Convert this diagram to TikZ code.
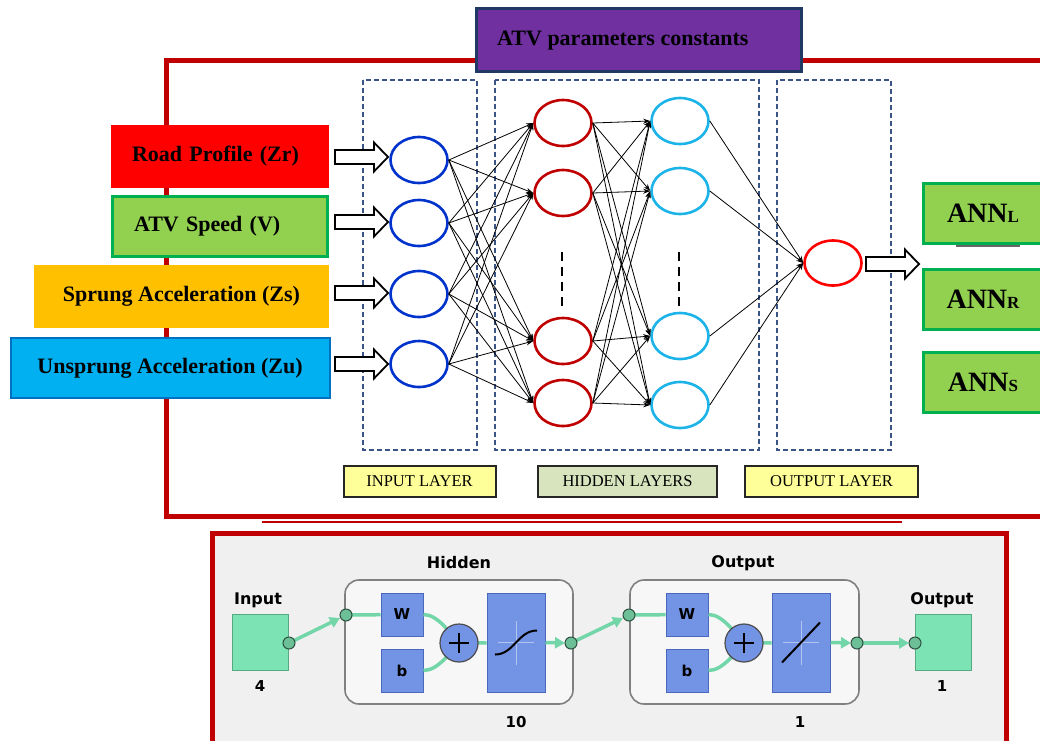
\documentclass[tikz,border=0pt]{standalone}
\usepackage{fontspec}
\setmainfont{Liberation Serif}
\newfontfamily\uisans{DejaVu Sans}
\usetikzlibrary{shapes.geometric,arrows.meta}
\definecolor{framered}{HTML}{C00000}
\definecolor{purp}{HTML}{7030A0}
\definecolor{navy}{HTML}{1F3864}
\definecolor{rbox}{HTML}{FF0000}
\definecolor{gfill}{HTML}{92D050}
\definecolor{gline}{HTML}{00B050}
\definecolor{obox}{HTML}{FFC000}
\definecolor{cbox}{HTML}{00B0F0}
\definecolor{cline}{HTML}{0070C0}
\definecolor{dashc}{HTML}{3A5488}
\definecolor{inblue}{HTML}{0033CC}
\definecolor{hred}{HTML}{C00000}
\definecolor{hcyan}{HTML}{1CB4E8}
\definecolor{yel}{HTML}{FFFF99}
\definecolor{hgreen}{HTML}{D7E4BD}
\definecolor{panelbg}{HTML}{F0F0F0}
\definecolor{mgreen}{HTML}{7BE3B4}
\definecolor{mgreenb}{HTML}{56A982}
\definecolor{mline}{HTML}{72D6A9}
\definecolor{mdot}{HTML}{6CBF97}
\definecolor{mdotb}{HTML}{2C4F3E}
\definecolor{mblue}{HTML}{7393E4}
\definecolor{mblueb}{HTML}{4A67BE}
\newcommand\blkarrow[2]{\draw[line width=1.8pt,fill=white] (#1,#2-7) -- ++(39,0) -- ++(0,-7.5) -- ++(14,14.5) -- ++(-14,14.5) -- ++(0,-7.5) -- ++(-39,0) -- cycle;}
\begin{document}
\begin{tikzpicture}[x=1pt,y=-1pt,
  inbox/.style={draw=none,minimum height=63pt,inner sep=0pt,font=\fontsize{22}{26}\selectfont\bfseries},
  neuron/.style={ellipse,draw,line width=2.6pt,minimum width=57pt,minimum height=46pt,inner sep=0pt},
  conn/.style={line width=0.8pt,-{Stealth[length=7pt,width=5pt]}},
  dbox/.style={draw=dashc,line width=1.3pt,dash pattern=on 5pt off 3pt},
  lbox/.style={draw=black!85,line width=2pt,minimum height=31pt,inner sep=0pt,font=\fontsize{16.5}{19}\selectfont},
  annbox/.style={draw=gline,fill=gfill,line width=3pt,minimum width=120pt,minimum height=60pt,inner sep=0pt},
  mw/.style={draw=mblueb,fill=mblue,line width=1pt,minimum width=42pt,minimum height=43pt,inner sep=0pt,font=\uisans\bfseries\fontsize{15}{18}\selectfont},
  mtf/.style={draw=mblueb,fill=mblue,line width=1pt,minimum width=58pt,minimum height=99pt,inner sep=0pt},
  mplus/.style={circle,draw=black!70,fill=mblue,line width=1.2pt,minimum size=38pt,inner sep=0pt},
  mround/.style={draw=black!50,fill=white!97!black,line width=1.6pt,rounded corners=14pt},
  mdotst/.style={circle,draw=mdotb,fill=mdot,line width=1pt,minimum size=12pt,inner sep=0pt},
  msq/.style={draw=mgreenb,fill=mgreen,line width=1pt,minimum width=56pt,minimum height=56pt,inner sep=0pt},
  mlbl/.style={font=\uisans\bfseries\fontsize{16}{19}\selectfont,inner sep=0pt},
  mnum/.style={font=\uisans\bfseries\fontsize{15}{18}\selectfont,inner sep=0pt},
  marr/.style={draw=mline,line width=3.5pt,-{Triangle[length=10pt,width=11pt]}},
  mln/.style={draw=mline,line width=3.5pt},
  tfcross/.style={draw=mblue!55!white,line width=1pt}]
\useasboundingbox (0,0) rectangle (1040,740);
\clip (0,0) rectangle (1040,740);
\fill[white] (0,0) rectangle (1040,740);

% top frame
\draw[framered,line width=5pt] (166,60) rectangle (1060,516);
\draw[framered,line width=1.3pt] (262,522) -- (902,522);

% purple title
\node[draw=navy,fill=purp,line width=3pt,minimum width=325pt,minimum height=63pt,inner sep=0pt] (title) at (639,40) {};
\node[anchor=west,inner sep=0pt,font=\fontsize{22}{26}\selectfont\bfseries] (titletext) at (497,41) {ATV parameters constants};

% dashed layer boxes
\draw[dbox] (363,80) rectangle (477,450);
\draw[dbox] (495,80) rectangle (759,450);
\draw[dbox] (777,80) rectangle (891,450);

% input boxes
\node[inbox,fill=rbox,minimum width=218pt,text width=176pt,inner xsep=21pt,align=left] (rp) at (220,156) {Road Profile (Zr)};
\node[inbox,draw=gline,line width=3pt,fill=gfill,minimum width=215pt,minimum height=60pt,text width=172pt,inner xsep=21pt,align=left] (sp) at (220,226.5) {ATV Speed (V)};
\node[inbox,fill=obox,minimum width=295pt] (za) at (181.5,296.5) {Sprung Acceleration (Zs)};
\node[inbox,draw=cline,line width=2pt,fill=cbox,minimum width=319pt,minimum height=60pt] (zu) at (170,368) {Unsprung Acceleration (Zu)};

% block arrows
\blkarrow{335}{157}
\blkarrow{335}{222}
\blkarrow{335}{293}
\blkarrow{335}{364}
\blkarrow{866}{264}

% neurons
\node[neuron,draw=inblue] (i1) at (419,160) {};
\node[neuron,draw=inblue] (i2) at (419,223) {};
\node[neuron,draw=inblue] (i3) at (419,294) {};
\node[neuron,draw=inblue] (i4) at (419,364) {};
\node[neuron,draw=hred] (h1) at (563,123) {};
\node[neuron,draw=hred] (h2) at (563,193) {};
\node[neuron,draw=hred] (h3) at (563,341) {};
\node[neuron,draw=hred] (h4) at (563,403) {};
\node[neuron,draw=hcyan] (g1) at (680,121) {};
\node[neuron,draw=hcyan] (g2) at (680,191) {};
\node[neuron,draw=hcyan] (g3) at (680,336) {};
\node[neuron,draw=hcyan] (g4) at (680,405) {};
\node[neuron,draw=rbox,minimum height=45pt] (o1) at (833,263) {};

\foreach \i in {1,...,4}{\foreach \j in {1,...,4}{
  \draw[conn] (i\i.east) -- (h\j.west);
  \draw[conn] (h\i.east) -- (g\j.west);
}}
\foreach \j in {1,...,4}{\draw[conn] (g\j.east) -- (o1.west);}

\draw[line width=2.5pt,dash pattern=on 9pt off 6pt] (562,252) -- (562,308);
\draw[line width=2.5pt,dash pattern=on 9pt off 6pt] (679,252) -- (679,308);

% ANN boxes
\node[annbox] (annl) at (983,213) {\fontsize{28}{32}\selectfont\bfseries ANN{\fontsize{17}{20}\selectfont L}};
\draw[black!60,line width=2pt] (956,246) -- (1020,246);
\node[annbox] (annr) at (983,299) {\fontsize{28}{32}\selectfont\bfseries ANN{\fontsize{17}{20}\selectfont R}};
\node[annbox] (anns) at (983,382.5) {\fontsize{28}{32}\selectfont\bfseries ANN{\fontsize{17}{20}\selectfont S}};

% layer labels
\node[lbox,fill=yel,minimum width=152pt] (linput) at (419.5,481) {INPUT LAYER};
\node[lbox,fill=hgreen,minimum width=179pt] (lhidden) at (627.5,481) {HIDDEN LAYERS};
\node[lbox,fill=yel,minimum width=173pt] (loutput) at (831.5,481) {OUTPUT LAYER};

% bottom panel
\draw[framered,fill=panelbg,line width=5pt] (212,533) rectangle (1006,760);

\node[mlbl] (inlbl) at (258,600) {Input};
\node[msq] (insq) at (260,642.5) {};
\node[mnum] (in4) at (260,686) {4};

\draw[mround] (345,580) rectangle (573,704);
\node[mlbl] (hidlbl) at (459,563) {Hidden};
\node[mnum] (hid10) at (516,722) {10};
\node[mw] (w1) at (402,614.5) {W};
\node[mw] (b1) at (402,670.5) {b};
\node[mtf] (t1) at (516,642.5) {};
\draw[tfcross] ([xshift=-18pt]t1.center) -- ([xshift=18pt]t1.center) ([yshift=-22pt]t1.center) -- ([yshift=22pt]t1.center);
\draw[black,line width=2pt] ([xshift=-21pt,yshift=-12pt]t1.center) .. controls ([xshift=-2pt,yshift=-12pt]t1.center) and ([xshift=2pt,yshift=12pt]t1.center) .. ([xshift=21pt,yshift=12pt]t1.center);

\draw[mround] (630,580) rectangle (859,704);
\node[mlbl] (outlbl) at (743,563) {Output};
\node[mnum] (out1) at (800,722) {1};
\node[mw] (w2) at (687,614.5) {W};
\node[mw] (b2) at (687,670.5) {b};
\node[mtf] (t2) at (801,642.5) {};
\draw[tfcross] ([xshift=-18pt]t2.center) -- ([xshift=18pt]t2.center) ([yshift=-22pt]t2.center) -- ([yshift=22pt]t2.center);
\draw[black,line width=2pt] ([xshift=-19pt,yshift=-20pt]t2.center) -- ([xshift=19pt,yshift=20pt]t2.center);

\node[mlbl] (olbl) at (942,600) {Output};
\node[msq] (osq) at (943.5,642.5) {};
\node[mnum] (o1n) at (942,686) {1};

% coordinates for dots and adders
\coordinate (c0) at (289,643);
\coordinate (c1) at (346,615);
\coordinate (c2) at (571,643);
\coordinate (c3) at (629,615);
\coordinate (c4) at (857,643);
\coordinate (c5) at (915,643);
\coordinate (cp1) at (459,643);
\coordinate (cp2) at (744,643);

% green connectors
\draw[marr] (c0) -- ([xshift=-6pt,yshift=-3pt]c1);
\draw[mln] (c1) -- (w1);
\draw[mln] (w1.east) .. controls +(15,0) and +(-8,-8) .. (cp1);
\draw[mln] (b1.east) .. controls +(15,0) and +(-8,8) .. (cp1);
\draw[mln] (cp1) -- (t1);
\draw[marr] (t1.east) -- ([xshift=-6pt]c2);
\draw[marr] (c2) -- ([xshift=-6pt,yshift=-3pt]c3);
\draw[mln] (c3) -- (w2);
\draw[mln] (w2.east) .. controls +(15,0) and +(-8,-8) .. (cp2);
\draw[mln] (b2.east) .. controls +(15,0) and +(-8,8) .. (cp2);
\draw[mln] (cp2) -- (t2);
\draw[marr] (t2.east) -- ([xshift=-6pt]c4);
\draw[marr] (c4) -- ([xshift=-6pt]c5);

% dots and adders on top
\node[mdotst] (d0) at (c0) {};
\node[mdotst] (d1) at (c1) {};
\node[mdotst] (d2) at (c2) {};
\node[mdotst] (d3) at (c3) {};
\node[mdotst] (d4) at (c4) {};
\node[mdotst] (d5) at (c5) {};
\node[mplus] (p1) at (cp1) {};
\draw[line width=2pt] (p1.center) ++(-10,0) -- ++(20,0) (p1.center) ++(0,-10) -- ++(0,20);
\node[mplus] (p2) at (cp2) {};
\draw[line width=2pt] (p2.center) ++(-10,0) -- ++(20,0) (p2.center) ++(0,-10) -- ++(0,20);
\end{tikzpicture}
\end{document}
